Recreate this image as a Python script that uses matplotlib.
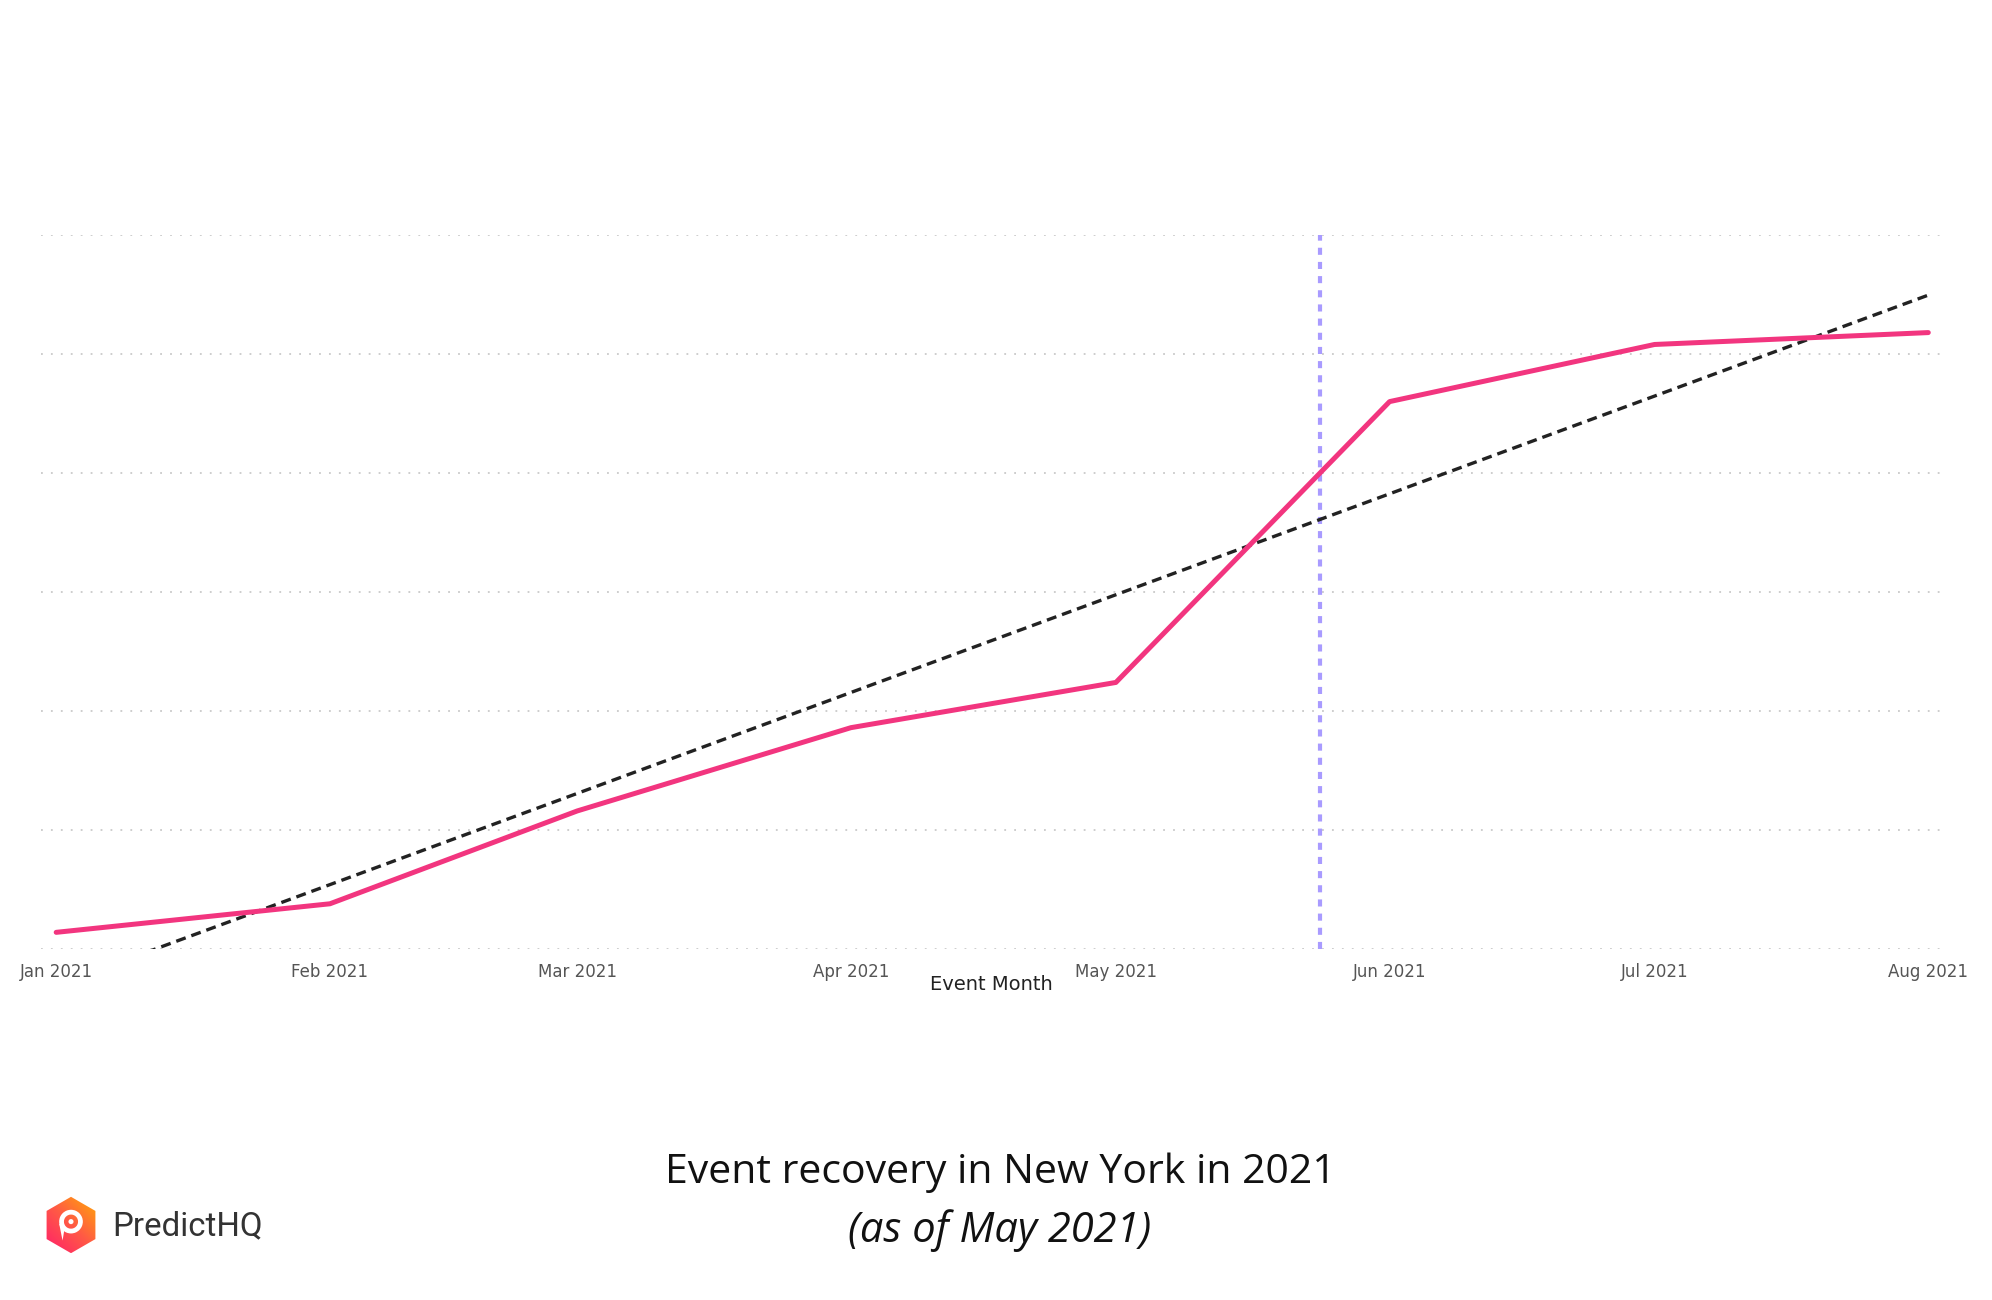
import numpy as np
import matplotlib
matplotlib.use("Agg")
import matplotlib.pyplot as plt
import matplotlib.dates as mdates
from matplotlib.patches import Polygon, Circle, Wedge
import datetime as dt

# ---- data ----
months = ["2021-01-01", "2021-02-01", "2021-03-01", "2021-04-01",
          "2021-05-01", "2021-06-01", "2021-07-01", "2021-08-01"]
tick_labels = ["Jan 2021", "Feb 2021", "Mar 2021", "Apr 2021",
               "May 2021", "Jun 2021", "Jul 2021", "Aug 2021"]
recovery = [0.14, 0.38, 1.16, 1.86, 2.24, 4.60, 5.08, 5.18]
marker_date = "2021-05-24 02:00"
grid_levels = [0, 1, 2, 3, 4, 5, 6]

title = "Event recovery in New York in 2021"
subtitle = "(as of May 2021)"
xlabel = "Event Month"
brand = "PredictHQ"

# ---- figure ----
W, H = 1992, 1300
fig = plt.figure(figsize=(W / 100, H / 100), dpi=100)
fig.patch.set_facecolor("white")

ax = fig.add_axes([41 / W, 1 - 949 / H, (1941 - 41) / W, (949 - 235) / H])
dates = [dt.datetime.strptime(m, "%Y-%m-%d") for m in months]
xn = mdates.date2num(dates)

# grid
for g in grid_levels:
    ax.axhline(g, color="#c9c9c9", lw=1.3, linestyle=(0, (1, 4.5)), zorder=0)

# trend (least squares through the monthly values)
coef = np.polyfit(xn - xn[0], recovery, 1)
tx = np.array([xn[0], xn[-1]])
ty = np.polyval(coef, tx - xn[0])
ax.plot(tx, ty, color="#222222", lw=2.4, linestyle=(0, (3.0, 1.8)), zorder=2)

# main line
ax.plot(xn, recovery, color="#F2357F", lw=3.6, solid_capstyle="round",
        solid_joinstyle="round", zorder=3)

# vertical marker
mx = mdates.date2num(dt.datetime.strptime(marker_date, "%Y-%m-%d %H:%M"))
ax.plot([mx, mx], [grid_levels[0], grid_levels[-1]], color="#A99BFF", lw=3,
        linestyle=(0, (1.7, 1.7)), zorder=1)

ax.set_xlim(xn[0] - 1.72, xn[-1] + 1.44)
ax.set_ylim(grid_levels[0], grid_levels[-1])
ax.set_xticks(xn)
ax.set_xticklabels(tick_labels, fontsize=12, color="#555555",
                   family=["Liberation Sans Narrow", "DejaVu Sans"])
ax.tick_params(axis="x", length=0, pad=10)
ax.set_yticks([])
for s in ax.spines.values():
    s.set_visible(False)
ax.set_xlabel(xlabel, fontsize=14, color="#222222",
              family=["Liberation Sans Narrow", "DejaVu Sans"])
ax.xaxis.set_label_coords(0.5, -0.036)
ax.xaxis.label.set_va("top")

# titles
fig.text(1000 / W, 1 - 1173 / H, title, ha="center", va="center",
         fontsize=29.5, color="#111111", family=["Open Sans", "DejaVu Sans"])
fig.text(1000 / W, 1 - 1231 / H, subtitle, ha="center", va="center",
         fontsize=30, color="#111111", style="italic",
         family=["Open Sans", "DejaVu Sans"])

# logo
lax = fig.add_axes([40 / W, 1 - 1256 / H, 62 / W, 62 / H])
lax.set_xlim(-1.1, 1.1)
lax.set_ylim(-1.1, 1.1)
lax.set_aspect("equal")
lax.axis("off")
ang = np.deg2rad(90 + 60 * np.arange(6))
hexpts = np.c_[np.cos(ang), np.sin(ang)]
hexagon = Polygon(hexpts, closed=True, facecolor="none", edgecolor="none",
                  joinstyle="round")
lax.add_patch(hexagon)
gx, gy = np.meshgrid(np.linspace(0, 1, 100), np.linspace(0, 1, 100))
grad = (gx + gy) / 2
cmap = matplotlib.colors.LinearSegmentedColormap.from_list(
    "phq", ["#FF1A6E", "#FF5A45", "#FFB000"])
im = lax.imshow(grad, extent=[-1, 1, -1, 1], origin="lower", cmap=cmap,
                interpolation="bilinear")
im.set_clip_path(hexagon)
lax.add_patch(Wedge((0, 0.12), 0.42, -200, 160, width=0.17,
                    facecolor="white", edgecolor="none"))
lax.add_patch(Polygon([[-0.42, 0.05], [-0.22, -0.08], [-0.3, -0.55]],
                      closed=True, facecolor="white", edgecolor="none"))
lax.add_patch(Circle((0, 0.12), 0.09, facecolor="white", edgecolor="none"))

fig.text(112 / W, 1 - 1226 / H, brand, ha="left", va="center",
         fontsize=23.8, color="#333333", family=["Roboto", "DejaVu Sans"])

fig.savefig("out.png", dpi=100, facecolor="white")
